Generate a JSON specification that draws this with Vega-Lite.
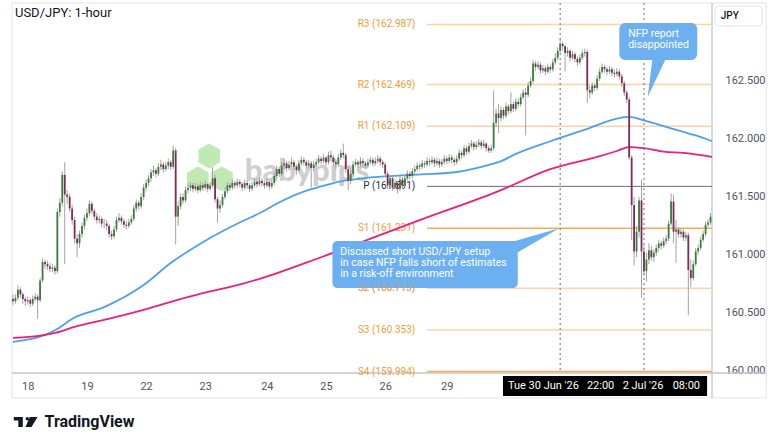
{
"$schema": "https://vega.github.io/schema/vega-lite/v6.json",
"width": 710, "height": 370,
"autosize": "none",
"padding": {"left": 7, "top": 3, "right": 63, "bottom": 73},
"background": "#ffffff",
"config": {"view": {"stroke": null}, "font": "Roboto", "axis": {"grid": false, "domain": false, "ticks": false, "labelColor": "#50535e", "labelFontSize": 11, "labelFont": "Roboto"}},
"datasets": {
"ohlc": [
{"t":0,"o":160.62,"h":160.66,"l":160.57,"c":160.60},{"t":1,"o":160.60,"h":160.66,"l":160.58,"c":160.63},{"t":2,"o":160.63,"h":160.74,"l":160.61,"c":160.70},{"t":3,"o":160.70,"h":160.72,"l":160.63,"c":160.66},{"t":4,"o":160.66,"h":160.68,"l":160.58,"c":160.62},{"t":5,"o":160.62,"h":160.64,"l":160.56,"c":160.60},{"t":6,"o":160.60,"h":160.64,"l":160.57,"c":160.61},{"t":7,"o":160.61,"h":160.63,"l":160.55,"c":160.58},{"t":8,"o":160.58,"h":160.65,"l":160.56,"c":160.62},{"t":9,"o":160.62,"h":160.67,"l":160.60,"c":160.64},
{"t":10,"o":160.64,"h":160.66,"l":160.45,"c":160.61},{"t":11,"o":160.61,"h":160.80,"l":160.59,"c":160.78},{"t":12,"o":160.78,"h":160.97,"l":160.76,"c":160.94},{"t":13,"o":160.94,"h":160.96,"l":160.88,"c":160.92},{"t":14,"o":160.92,"h":160.95,"l":160.87,"c":160.90},{"t":15,"o":160.90,"h":160.93,"l":160.85,"c":160.88},{"t":16,"o":160.88,"h":160.92,"l":160.85,"c":160.89},{"t":17,"o":160.89,"h":160.91,"l":160.83,"c":160.86},{"t":18,"o":160.86,"h":161.40,"l":160.84,"c":161.37},{"t":19,"o":161.37,"h":161.49,"l":161.33,"c":161.45},
{"t":20,"o":161.45,"h":161.72,"l":161.42,"c":161.69},{"t":21,"o":161.69,"h":161.80,"l":160.92,"c":161.52},{"t":22,"o":161.52,"h":161.56,"l":161.44,"c":161.50},{"t":23,"o":161.50,"h":161.53,"l":161.37,"c":161.40},{"t":24,"o":161.40,"h":161.43,"l":161.26,"c":161.30},{"t":25,"o":161.30,"h":161.33,"l":161.10,"c":161.14},{"t":26,"o":161.14,"h":161.18,"l":160.98,"c":161.10},{"t":27,"o":161.10,"h":161.21,"l":161.06,"c":161.18},{"t":28,"o":161.18,"h":161.28,"l":161.15,"c":161.25},{"t":29,"o":161.25,"h":161.35,"l":161.22,"c":161.32},
{"t":30,"o":161.32,"h":161.40,"l":161.29,"c":161.36},{"t":31,"o":161.36,"h":161.47,"l":161.33,"c":161.44},{"t":32,"o":161.44,"h":161.46,"l":161.35,"c":161.38},{"t":33,"o":161.38,"h":161.40,"l":161.30,"c":161.33},{"t":34,"o":161.33,"h":161.36,"l":161.27,"c":161.30},{"t":35,"o":161.30,"h":161.34,"l":161.27,"c":161.31},{"t":36,"o":161.31,"h":161.33,"l":161.24,"c":161.27},{"t":37,"o":161.27,"h":161.31,"l":161.23,"c":161.27},{"t":38,"o":161.27,"h":161.30,"l":161.21,"c":161.25},{"t":39,"o":161.25,"h":161.27,"l":161.15,"c":161.18},
{"t":40,"o":161.18,"h":161.21,"l":161.13,"c":161.16},{"t":41,"o":161.16,"h":161.25,"l":161.14,"c":161.22},{"t":42,"o":161.22,"h":161.33,"l":161.20,"c":161.30},{"t":43,"o":161.30,"h":161.36,"l":161.28,"c":161.32},{"t":44,"o":161.32,"h":161.34,"l":161.26,"c":161.29},{"t":45,"o":161.29,"h":161.31,"l":161.23,"c":161.26},{"t":46,"o":161.26,"h":161.29,"l":161.22,"c":161.25},{"t":47,"o":161.25,"h":161.31,"l":161.23,"c":161.28},{"t":48,"o":161.28,"h":161.34,"l":161.26,"c":161.31},{"t":49,"o":161.31,"h":161.43,"l":161.29,"c":161.40},
{"t":50,"o":161.40,"h":161.48,"l":161.37,"c":161.45},{"t":51,"o":161.45,"h":161.47,"l":161.39,"c":161.42},{"t":52,"o":161.42,"h":161.53,"l":161.40,"c":161.50},{"t":53,"o":161.50,"h":161.61,"l":161.47,"c":161.58},{"t":54,"o":161.58,"h":161.65,"l":161.55,"c":161.62},{"t":55,"o":161.62,"h":161.69,"l":161.59,"c":161.66},{"t":56,"o":161.66,"h":161.74,"l":161.63,"c":161.71},{"t":57,"o":161.71,"h":161.77,"l":161.68,"c":161.73},{"t":58,"o":161.73,"h":161.75,"l":161.67,"c":161.70},{"t":59,"o":161.70,"h":161.79,"l":161.68,"c":161.76},
{"t":60,"o":161.76,"h":161.82,"l":161.73,"c":161.78},{"t":61,"o":161.78,"h":161.80,"l":161.71,"c":161.74},{"t":62,"o":161.74,"h":161.80,"l":161.72,"c":161.77},{"t":63,"o":161.77,"h":161.83,"l":161.74,"c":161.80},{"t":64,"o":161.80,"h":161.82,"l":161.73,"c":161.76},{"t":65,"o":161.76,"h":161.94,"l":161.74,"c":161.90},{"t":66,"o":161.90,"h":161.92,"l":161.09,"c":161.33},{"t":67,"o":161.33,"h":161.46,"l":161.25,"c":161.42},{"t":68,"o":161.42,"h":161.53,"l":161.39,"c":161.50},{"t":69,"o":161.50,"h":161.53,"l":161.44,"c":161.47},
{"t":70,"o":161.47,"h":161.59,"l":161.45,"c":161.56},{"t":71,"o":161.56,"h":161.62,"l":161.53,"c":161.58},{"t":72,"o":161.58,"h":161.63,"l":161.55,"c":161.60},{"t":73,"o":161.60,"h":161.62,"l":161.54,"c":161.57},{"t":74,"o":161.57,"h":161.62,"l":161.55,"c":161.59},{"t":75,"o":161.59,"h":161.61,"l":161.53,"c":161.56},{"t":76,"o":161.56,"h":161.63,"l":161.54,"c":161.60},{"t":77,"o":161.60,"h":161.62,"l":161.55,"c":161.58},{"t":78,"o":161.58,"h":161.64,"l":161.56,"c":161.61},{"t":79,"o":161.61,"h":161.62,"l":161.54,"c":161.57},
{"t":80,"o":161.57,"h":161.63,"l":161.55,"c":161.60},{"t":81,"o":161.60,"h":161.76,"l":161.58,"c":161.66},{"t":82,"o":161.66,"h":161.69,"l":161.45,"c":161.48},{"t":83,"o":161.48,"h":161.50,"l":161.28,"c":161.40},{"t":84,"o":161.40,"h":161.47,"l":161.36,"c":161.43},{"t":85,"o":161.43,"h":161.53,"l":161.41,"c":161.50},{"t":86,"o":161.50,"h":161.58,"l":161.48,"c":161.55},{"t":87,"o":161.55,"h":161.63,"l":161.53,"c":161.60},{"t":88,"o":161.60,"h":161.62,"l":161.55,"c":161.58},{"t":89,"o":161.58,"h":161.65,"l":161.56,"c":161.62},
{"t":90,"o":161.62,"h":161.64,"l":161.57,"c":161.60},{"t":91,"o":161.60,"h":161.66,"l":161.58,"c":161.63},{"t":92,"o":161.63,"h":161.65,"l":161.58,"c":161.61},{"t":93,"o":161.61,"h":161.63,"l":161.55,"c":161.58},{"t":94,"o":161.58,"h":161.65,"l":161.56,"c":161.62},{"t":95,"o":161.62,"h":161.64,"l":161.57,"c":161.60},{"t":96,"o":161.60,"h":161.62,"l":161.54,"c":161.57},{"t":97,"o":161.57,"h":161.63,"l":161.55,"c":161.60},{"t":98,"o":161.60,"h":161.66,"l":161.58,"c":161.63},{"t":99,"o":161.63,"h":161.65,"l":161.58,"c":161.61},
{"t":100,"o":161.61,"h":161.67,"l":161.59,"c":161.64},{"t":101,"o":161.64,"h":161.66,"l":161.59,"c":161.62},{"t":102,"o":161.62,"h":161.64,"l":161.57,"c":161.60},{"t":103,"o":161.60,"h":161.66,"l":161.58,"c":161.63},{"t":104,"o":161.63,"h":161.64,"l":161.56,"c":161.59},{"t":105,"o":161.59,"h":161.65,"l":161.57,"c":161.62},{"t":106,"o":161.62,"h":161.71,"l":161.60,"c":161.68},{"t":107,"o":161.68,"h":161.77,"l":161.66,"c":161.74},{"t":108,"o":161.74,"h":161.76,"l":161.67,"c":161.70},{"t":109,"o":161.70,"h":161.80,"l":161.68,"c":161.77},
{"t":110,"o":161.77,"h":161.83,"l":161.74,"c":161.79},{"t":111,"o":161.79,"h":161.81,"l":161.72,"c":161.75},{"t":112,"o":161.75,"h":161.81,"l":161.73,"c":161.78},{"t":113,"o":161.78,"h":161.84,"l":161.76,"c":161.80},{"t":114,"o":161.80,"h":161.82,"l":161.73,"c":161.76},{"t":115,"o":161.76,"h":161.78,"l":161.69,"c":161.73},{"t":116,"o":161.73,"h":161.82,"l":161.71,"c":161.79},{"t":117,"o":161.79,"h":161.85,"l":161.77,"c":161.82},{"t":118,"o":161.82,"h":161.84,"l":161.77,"c":161.80},{"t":119,"o":161.80,"h":161.82,"l":161.74,"c":161.77},
{"t":120,"o":161.77,"h":161.82,"l":161.75,"c":161.79},{"t":121,"o":161.79,"h":161.81,"l":161.58,"c":161.75},{"t":122,"o":161.75,"h":161.81,"l":161.72,"c":161.78},{"t":123,"o":161.78,"h":161.83,"l":161.76,"c":161.80},{"t":124,"o":161.80,"h":161.86,"l":161.78,"c":161.83},{"t":125,"o":161.83,"h":161.85,"l":161.78,"c":161.81},{"t":126,"o":161.81,"h":161.87,"l":161.79,"c":161.84},{"t":127,"o":161.84,"h":161.85,"l":161.77,"c":161.80},{"t":128,"o":161.80,"h":161.89,"l":161.78,"c":161.86},{"t":129,"o":161.86,"h":161.90,"l":161.81,"c":161.84},
{"t":130,"o":161.84,"h":161.86,"l":161.77,"c":161.80},{"t":131,"o":161.80,"h":161.82,"l":161.74,"c":161.78},{"t":132,"o":161.78,"h":161.87,"l":161.76,"c":161.84},{"t":133,"o":161.84,"h":161.91,"l":161.82,"c":161.88},{"t":134,"o":161.88,"h":161.96,"l":161.83,"c":161.86},{"t":135,"o":161.86,"h":161.88,"l":161.71,"c":161.74},{"t":136,"o":161.74,"h":161.76,"l":161.56,"c":161.64},{"t":137,"o":161.64,"h":161.73,"l":161.61,"c":161.70},{"t":138,"o":161.70,"h":161.81,"l":161.68,"c":161.78},{"t":139,"o":161.78,"h":161.83,"l":161.76,"c":161.80},
{"t":140,"o":161.80,"h":161.82,"l":161.75,"c":161.78},{"t":141,"o":161.78,"h":161.84,"l":161.76,"c":161.81},{"t":142,"o":161.81,"h":161.83,"l":161.76,"c":161.79},{"t":143,"o":161.79,"h":161.81,"l":161.74,"c":161.77},{"t":144,"o":161.77,"h":161.83,"l":161.75,"c":161.80},{"t":145,"o":161.80,"h":161.85,"l":161.78,"c":161.82},{"t":146,"o":161.82,"h":161.84,"l":161.76,"c":161.79},{"t":147,"o":161.79,"h":161.84,"l":161.77,"c":161.81},{"t":148,"o":161.81,"h":161.86,"l":161.79,"c":161.83},{"t":149,"o":161.83,"h":161.85,"l":161.77,"c":161.80},
{"t":150,"o":161.80,"h":161.82,"l":161.75,"c":161.78},{"t":151,"o":161.78,"h":161.80,"l":161.67,"c":161.70},{"t":152,"o":161.70,"h":161.72,"l":161.57,"c":161.60},{"t":153,"o":161.60,"h":161.69,"l":161.58,"c":161.66},{"t":154,"o":161.66,"h":161.68,"l":161.55,"c":161.58},{"t":155,"o":161.58,"h":161.65,"l":161.56,"c":161.62},{"t":156,"o":161.62,"h":161.64,"l":161.53,"c":161.57},{"t":157,"o":161.57,"h":161.68,"l":161.55,"c":161.65},{"t":158,"o":161.65,"h":161.67,"l":161.57,"c":161.60},{"t":159,"o":161.60,"h":161.69,"l":161.58,"c":161.66},
{"t":160,"o":161.66,"h":161.73,"l":161.64,"c":161.70},{"t":161,"o":161.70,"h":161.72,"l":161.65,"c":161.68},{"t":162,"o":161.68,"h":161.75,"l":161.66,"c":161.72},{"t":163,"o":161.72,"h":161.77,"l":161.70,"c":161.74},{"t":164,"o":161.74,"h":161.80,"l":161.72,"c":161.77},{"t":165,"o":161.77,"h":161.79,"l":161.73,"c":161.76},{"t":166,"o":161.76,"h":161.82,"l":161.74,"c":161.79},{"t":167,"o":161.79,"h":161.81,"l":161.75,"c":161.78},{"t":168,"o":161.78,"h":161.84,"l":161.76,"c":161.81},{"t":169,"o":161.81,"h":161.83,"l":161.77,"c":161.80},
{"t":170,"o":161.80,"h":161.85,"l":161.78,"c":161.82},{"t":171,"o":161.82,"h":161.84,"l":161.76,"c":161.79},{"t":172,"o":161.79,"h":161.84,"l":161.77,"c":161.81},{"t":173,"o":161.81,"h":161.83,"l":161.75,"c":161.78},{"t":174,"o":161.78,"h":161.83,"l":161.76,"c":161.80},{"t":175,"o":161.80,"h":161.86,"l":161.78,"c":161.83},{"t":176,"o":161.83,"h":161.85,"l":161.78,"c":161.81},{"t":177,"o":161.81,"h":161.87,"l":161.79,"c":161.84},{"t":178,"o":161.84,"h":161.86,"l":161.79,"c":161.82},{"t":179,"o":161.82,"h":161.84,"l":161.77,"c":161.80},
{"t":180,"o":161.80,"h":161.86,"l":161.78,"c":161.83},{"t":181,"o":161.83,"h":161.91,"l":161.81,"c":161.88},{"t":182,"o":161.88,"h":161.90,"l":161.83,"c":161.86},{"t":183,"o":161.86,"h":161.95,"l":161.84,"c":161.92},{"t":184,"o":161.92,"h":161.94,"l":161.86,"c":161.89},{"t":185,"o":161.89,"h":161.97,"l":161.87,"c":161.94},{"t":186,"o":161.94,"h":161.99,"l":161.92,"c":161.96},{"t":187,"o":161.96,"h":161.98,"l":161.90,"c":161.93},{"t":188,"o":161.93,"h":161.98,"l":161.91,"c":161.95},{"t":189,"o":161.95,"h":162.00,"l":161.93,"c":161.97},
{"t":190,"o":161.97,"h":161.99,"l":161.91,"c":161.94},{"t":191,"o":161.94,"h":161.99,"l":161.92,"c":161.96},{"t":192,"o":161.96,"h":161.97,"l":161.89,"c":161.92},{"t":193,"o":161.92,"h":161.94,"l":161.88,"c":161.90},{"t":194,"o":161.90,"h":161.95,"l":161.88,"c":161.92},{"t":195,"o":161.92,"h":162.42,"l":161.90,"c":162.14},{"t":196,"o":162.14,"h":162.26,"l":162.10,"c":162.22},{"t":197,"o":162.22,"h":162.30,"l":162.05,"c":162.18},{"t":198,"o":162.18,"h":162.28,"l":162.15,"c":162.25},{"t":199,"o":162.25,"h":162.27,"l":162.17,"c":162.20},
{"t":200,"o":162.20,"h":162.31,"l":162.18,"c":162.28},{"t":201,"o":162.28,"h":162.30,"l":162.21,"c":162.24},{"t":202,"o":162.24,"h":162.40,"l":162.22,"c":162.30},{"t":203,"o":162.30,"h":162.32,"l":162.23,"c":162.26},{"t":204,"o":162.26,"h":162.35,"l":162.24,"c":162.32},{"t":205,"o":162.32,"h":162.35,"l":162.27,"c":162.30},{"t":206,"o":162.30,"h":162.39,"l":162.28,"c":162.36},{"t":207,"o":162.36,"h":162.43,"l":162.34,"c":162.40},{"t":208,"o":162.40,"h":162.44,"l":162.03,"c":162.38},{"t":209,"o":162.38,"h":162.49,"l":162.36,"c":162.46},
{"t":210,"o":162.46,"h":162.53,"l":162.44,"c":162.50},{"t":211,"o":162.50,"h":162.68,"l":162.48,"c":162.65},{"t":212,"o":162.65,"h":162.67,"l":162.59,"c":162.62},{"t":213,"o":162.62,"h":162.67,"l":162.60,"c":162.64},{"t":214,"o":162.64,"h":162.66,"l":162.56,"c":162.59},{"t":215,"o":162.59,"h":162.64,"l":162.57,"c":162.61},{"t":216,"o":162.61,"h":162.63,"l":162.55,"c":162.58},{"t":217,"o":162.58,"h":162.65,"l":162.56,"c":162.62},{"t":218,"o":162.62,"h":162.64,"l":162.57,"c":162.60},{"t":219,"o":162.60,"h":162.69,"l":162.58,"c":162.66},
{"t":220,"o":162.66,"h":162.74,"l":162.64,"c":162.70},{"t":221,"o":162.70,"h":162.79,"l":162.68,"c":162.76},{"t":222,"o":162.76,"h":162.86,"l":162.74,"c":162.82},{"t":223,"o":162.82,"h":162.84,"l":162.76,"c":162.80},{"t":224,"o":162.80,"h":162.81,"l":162.58,"c":162.74},{"t":225,"o":162.74,"h":162.79,"l":162.71,"c":162.76},{"t":226,"o":162.76,"h":162.77,"l":162.67,"c":162.70},{"t":227,"o":162.70,"h":162.76,"l":162.68,"c":162.73},{"t":228,"o":162.73,"h":162.75,"l":162.66,"c":162.69},{"t":229,"o":162.69,"h":162.71,"l":162.63,"c":162.66},
{"t":230,"o":162.66,"h":162.73,"l":162.64,"c":162.70},{"t":231,"o":162.70,"h":162.77,"l":162.68,"c":162.74},{"t":232,"o":162.74,"h":162.78,"l":162.71,"c":162.75},{"t":233,"o":162.75,"h":162.77,"l":162.31,"c":162.42},{"t":234,"o":162.42,"h":162.46,"l":162.35,"c":162.40},{"t":235,"o":162.40,"h":162.49,"l":162.38,"c":162.46},{"t":236,"o":162.46,"h":162.48,"l":162.41,"c":162.44},{"t":237,"o":162.44,"h":162.55,"l":162.42,"c":162.52},{"t":238,"o":162.52,"h":162.61,"l":162.50,"c":162.58},{"t":239,"o":162.58,"h":162.65,"l":162.56,"c":162.62},
{"t":240,"o":162.62,"h":162.64,"l":162.57,"c":162.60},{"t":241,"o":162.60,"h":162.62,"l":162.55,"c":162.58},{"t":242,"o":162.58,"h":162.63,"l":162.56,"c":162.60},{"t":243,"o":162.60,"h":162.62,"l":162.54,"c":162.57},{"t":244,"o":162.57,"h":162.60,"l":162.53,"c":162.56},{"t":245,"o":162.56,"h":162.61,"l":162.54,"c":162.58},{"t":246,"o":162.58,"h":162.60,"l":162.51,"c":162.54},{"t":247,"o":162.54,"h":162.56,"l":162.45,"c":162.48},{"t":248,"o":162.48,"h":162.50,"l":162.37,"c":162.40},{"t":249,"o":162.40,"h":162.42,"l":162.31,"c":162.34},
{"t":250,"o":162.34,"h":162.36,"l":161.82,"c":161.84},{"t":251,"o":161.84,"h":161.86,"l":161.13,"c":161.43},{"t":252,"o":161.43,"h":161.50,"l":160.91,"c":161.03},{"t":253,"o":161.03,"h":161.25,"l":160.98,"c":161.20},{"t":254,"o":161.20,"h":161.50,"l":161.15,"c":161.47},{"t":255,"o":161.47,"h":161.65,"l":160.63,"c":161.03},{"t":256,"o":161.03,"h":161.08,"l":160.82,"c":160.86},{"t":257,"o":160.86,"h":161.02,"l":160.77,"c":160.96},{"t":258,"o":160.96,"h":161.10,"l":160.92,"c":161.04},{"t":259,"o":161.04,"h":161.08,"l":160.95,"c":160.98},
{"t":260,"o":160.98,"h":161.05,"l":160.94,"c":161.02},{"t":261,"o":161.02,"h":161.09,"l":160.99,"c":161.06},{"t":262,"o":161.06,"h":161.13,"l":161.03,"c":161.10},{"t":263,"o":161.10,"h":161.12,"l":161.05,"c":161.08},{"t":264,"o":161.08,"h":161.15,"l":161.06,"c":161.12},{"t":265,"o":161.12,"h":161.17,"l":161.09,"c":161.14},{"t":266,"o":161.14,"h":161.30,"l":161.12,"c":161.27},{"t":267,"o":161.27,"h":161.53,"l":161.25,"c":161.46},{"t":268,"o":161.46,"h":161.52,"l":161.10,"c":161.20},{"t":269,"o":161.20,"h":161.30,"l":160.93,"c":161.22},
{"t":270,"o":161.22,"h":161.24,"l":161.15,"c":161.18},{"t":271,"o":161.18,"h":161.23,"l":161.15,"c":161.20},{"t":272,"o":161.20,"h":161.22,"l":161.12,"c":161.15},{"t":273,"o":161.15,"h":161.20,"l":161.12,"c":161.17},{"t":274,"o":161.17,"h":161.19,"l":160.48,"c":160.87},{"t":275,"o":160.87,"h":160.96,"l":160.72,"c":160.80},{"t":276,"o":160.80,"h":160.95,"l":160.78,"c":160.92},{"t":277,"o":160.92,"h":161.06,"l":160.90,"c":161.03},{"t":278,"o":161.03,"h":161.09,"l":161.00,"c":161.06},{"t":279,"o":161.06,"h":161.16,"l":161.04,"c":161.13},
{"t":280,"o":161.13,"h":161.21,"l":161.11,"c":161.18},{"t":281,"o":161.18,"h":161.29,"l":161.16,"c":161.26},{"t":282,"o":161.26,"h":161.31,"l":161.24,"c":161.28},{"t":283,"o":161.28,"h":161.36,"l":161.26,"c":161.33}
],
"ma": [
{"s":"b","t":0,"v":160.25},{"s":"b","t":13,"v":160.31},{"s":"b","t":17,"v":160.35},{"s":"b","t":25,"v":160.46},{"s":"b","t":37,"v":160.55},{"s":"b","t":53,"v":160.74},{"s":"b","t":64,"v":160.93},{"s":"b","t":77,"v":161.11},{"s":"b","t":93,"v":161.29},{"s":"b","t":101,"v":161.37},{"s":"b","t":106,"v":161.43},{"s":"b","t":120,"v":161.56},{"s":"b","t":125,"v":161.59},{"s":"b","t":133,"v":161.635},{"s":"b","t":138,"v":161.65},{"s":"b","t":146,"v":161.67},{"s":"b","t":153,"v":161.68},{"s":"b","t":166,"v":161.695},{"s":"b","t":180,"v":161.715},{"s":"b","t":192,"v":161.77},{"s":"b","t":197,"v":161.80},{"s":"b","t":205,"v":161.88},{"s":"b","t":218,"v":161.98},{"s":"b","t":232,"v":162.08},{"s":"b","t":245,"v":162.175},{"s":"b","t":250,"v":162.19},{"s":"b","t":256,"v":162.16},{"s":"b","t":264,"v":162.11},{"s":"b","t":272,"v":162.06},{"s":"b","t":277,"v":162.03},{"s":"b","t":283.6,"v":161.98},
{"s":"p","t":0,"v":160.284},{"s":"p","t":13,"v":160.31},{"s":"p","t":17,"v":160.327},{"s":"p","t":25,"v":160.38},{"s":"p","t":37,"v":160.44},{"s":"p","t":53,"v":160.526},{"s":"p","t":64,"v":160.595},{"s":"p","t":77,"v":160.67},{"s":"p","t":93,"v":160.75},{"s":"p","t":101,"v":160.80},{"s":"p","t":125,"v":160.98},{"s":"p","t":165,"v":161.30},{"s":"p","t":197,"v":161.55},{"s":"p","t":218,"v":161.74},{"s":"p","t":237,"v":161.845},{"s":"p","t":245,"v":161.896},{"s":"p","t":250,"v":161.93},{"s":"p","t":256,"v":161.92},{"s":"p","t":264,"v":161.89},{"s":"p","t":272,"v":161.88},{"s":"p","t":283.6,"v":161.845}
],
"piv": [
{"lvl":"R3","v":162.987,"label":"R3 (162.987)"},{"lvl":"R2","v":162.469,"label":"R2 (162.469)"},{"lvl":"R1","v":162.109,"label":"R1 (162.109)"},{"lvl":"P","v":161.591,"label":"P (161.591)"},{"lvl":"S1","v":161.231,"label":"S1 (161.231)"},{"lvl":"S2","v":160.713,"label":"S2 (160.713)"},{"lvl":"S3","v":160.353,"label":"S3 (160.353)"},{"lvl":"S4","v":159.994,"label":"S4 (159.994)"}
],
"events": [{"t":222},{"t":256}]
},
"layer": [
{"data": {"name": "ohlc"},
 "mark": {"type": "rule", "color": "#a3a3a3", "strokeWidth": 1, "opacity": 0},
 "encoding": {
  "x": {"field": "t", "type": "quantitative", "scale": {"domain": [-0.4, 283.6], "nice": false, "zero": false},
        "axis": {"orient": "bottom", "values": [6, 30, 54, 78, 103, 127, 151, 176], "labelExpr": "['18','19','22','23','24','25','26','29'][indexof([6,30,54,78,103,127,151,176], datum.value)]", "domain": false, "ticks": false, "grid": false, "labelPadding": 7, "labelFontSize": 11, "labelColor": "#50535e", "labelFont": "Roboto", "labelOverlap": false, "labelFlush": false, "title": null}},
  "y": {"field": "l", "type": "quantitative", "scale": {"domain": [159.982, 163.172], "nice": false, "zero": false},
        "axis": {"orient": "right", "values": [160, 160.5, 161, 161.5, 162, 162.5], "format": ".3f", "domain": false, "ticks": false, "tickSize": 0, "grid": false, "labelPadding": 8, "labelFontSize": 11, "labelColor": "#50535e", "labelFont": "Roboto", "labelOverlap": false, "labelFlush": false, "title": null}},
  "y2": {"field": "h"}
 }},
{"data": {"values": [{}]},
 "mark": {"type": "rect", "fillOpacity": 0, "stroke": "#e0e3eb", "strokeWidth": 1, "clip": false},
 "encoding": {"x": {"datum": -0.4, "type": "quantitative"}, "x2": {"datum": 305.6}, "y": {"datum": 163.172, "type": "quantitative"}, "y2": {"datum": 159.767}}},
{"data": {"values": [{}]},
 "mark": {"type": "rule", "color": "#b2b5be", "strokeWidth": 1, "clip": false},
 "encoding": {"x": {"datum": 283.6, "type": "quantitative"}, "y": {"datum": 163.172, "type": "quantitative"}, "y2": {"datum": 159.767}}},
{"data": {"values": [{}]},
 "mark": {"type": "rule", "color": "#c3c6ce", "strokeWidth": 1.5, "clip": false},
 "encoding": {"x": {"datum": -0.4, "type": "quantitative"}, "x2": {"datum": 305.6}, "y": {"datum": 159.982, "type": "quantitative"}}},
{"data": {"values": [{}]},
 "mark": {"type": "point", "shape": "M0,-1L0.866,-0.5L0.866,0.5L0,1L-0.866,0.5L-0.866,-0.5Z", "size": 680, "filled": true, "fill": "#b7e6a6", "stroke": "#ffffff", "strokeWidth": 1, "opacity": 0.85},
 "encoding": {"x": {"datum": 79.6, "type": "quantitative"}, "y": {"datum": 161.853, "type": "quantitative"}}},
{"data": {"values": [{}]},
 "mark": {"type": "point", "shape": "M0,-1L0.866,-0.5L0.866,0.5L0,1L-0.866,0.5L-0.866,-0.5Z", "size": 680, "filled": true, "fill": "#b7e6a6", "stroke": "#ffffff", "strokeWidth": 1, "opacity": 0.85},
 "encoding": {"x": {"datum": 75, "type": "quantitative"}, "y": {"datum": 161.655, "type": "quantitative"}}},
{"data": {"values": [{}]},
 "mark": {"type": "point", "shape": "M0,-1L0.866,-0.5L0.866,0.5L0,1L-0.866,0.5L-0.866,-0.5Z", "size": 680, "filled": true, "fill": "#b7e6a6", "stroke": "#ffffff", "strokeWidth": 1, "opacity": 0.85},
 "encoding": {"x": {"datum": 84.8, "type": "quantitative"}, "y": {"datum": 161.655, "type": "quantitative"}}},
{"data": {"values": [{}]},
 "mark": {"type": "text", "text": "babypips", "font": "Lato", "fontWeight": 900, "fontSize": 31, "color": "#c4c4c4", "opacity": 0.8, "align": "left", "baseline": "alphabetic"},
 "encoding": {"x": {"datum": 94, "type": "quantitative"}, "y": {"datum": 161.638, "type": "quantitative"}}},
{"data": {"name": "piv"},
 "mark": {"type": "rule"},
 "encoding": {
  "x": {"datum": 168, "type": "quantitative"}, "x2": {"datum": 283.6},
  "y": {"field": "v", "type": "quantitative", "title": null},
  "color": {"condition": [{"test": "datum.lvl === 'P'", "value": "#6a6d78"}, {"test": "datum.lvl === 'S1' || datum.lvl === 'S4'", "value": "#f8ab55"}], "value": "#fdd3a6"},
  "strokeWidth": {"condition": {"test": "datum.lvl === 'P'", "value": 1}, "value": 1.5}
 }},
{"data": {"name": "piv"},
 "mark": {"type": "text", "align": "right", "baseline": "middle", "fontSize": 10, "font": "Roboto"},
 "encoding": {
  "x": {"datum": 163.2, "type": "quantitative"},
  "y": {"field": "v", "type": "quantitative", "title": null},
  "text": {"field": "label"},
  "color": {"condition": {"test": "datum.lvl === 'P'", "value": "#2a2e39"}, "value": "#f39b38"}
 }},
{"data": {"name": "ma"},
 "mark": {"type": "line", "strokeWidth": 1.8, "interpolate": "monotone"},
 "encoding": {
  "x": {"field": "t", "type": "quantitative", "title": null},
  "y": {"field": "v", "type": "quantitative", "title": null},
  "color": {"field": "s", "type": "nominal", "scale": {"domain": ["b", "p"], "range": ["#4d9ff2", "#ec1f7a"]}, "legend": null}
 }},
{"data": {"name": "events"},
 "mark": {"type": "rule", "color": "#6a6d78", "strokeWidth": 1, "strokeDash": [2, 3]},
 "encoding": {"x": {"field": "t", "type": "quantitative", "title": null}, "y": {"datum": 163.172, "type": "quantitative"}, "y2": {"datum": 159.982}}},
{"data": {"name": "ohlc"},
 "mark": {"type": "rule", "color": "#a3a3a3", "strokeWidth": 1},
 "encoding": {"x": {"field": "t", "type": "quantitative", "title": null}, "y": {"field": "l", "type": "quantitative", "title": null}, "y2": {"field": "h"}}},
{"data": {"name": "ohlc"},
 "mark": {"type": "bar", "size": 1.8},
 "encoding": {
  "x": {"field": "t", "type": "quantitative", "title": null},
  "y": {"field": "o", "type": "quantitative", "title": null}, "y2": {"field": "c"},
  "color": {"condition": {"test": "datum.c >= datum.o", "value": "#3b7d3b"}, "value": "#7e2a5a"}
 }},
{"data": {"values": [{}]},
 "mark": {"type": "rect", "color": "#6cb0f2", "cornerRadius": 5},
 "encoding": {"x": {"datum": 129.6, "type": "quantitative"}, "x2": {"datum": 204.8}, "y": {"datum": 161.12, "type": "quantitative"}, "y2": {"datum": 160.715}}},
{"data": {"values": [{}]},
 "mark": {"type": "point", "shape": "M0,0L-1.04,0.3L-0.86,0.5Z", "size": 10000, "filled": true, "fill": "#6cb0f2", "strokeWidth": 0, "opacity": 1},
 "encoding": {"x": {"datum": 221.6, "type": "quantitative"}, "y": {"datum": 161.231, "type": "quantitative"}}},
{"data": {"values": [{}]},
 "mark": {"type": "text", "text": ["Discussed short USD/JPY setup", "in case NFP falls short of estimates", "in a risk-off environment"], "lineHeight": 11, "align": "left", "baseline": "top", "fontSize": 10.5, "font": "Roboto", "color": "#ffffff"},
 "encoding": {"x": {"datum": 132.8, "type": "quantitative"}, "y": {"datum": 161.069, "type": "quantitative"}}},
{"data": {"name": "piv"},
 "transform": [{"filter": "datum.lvl === 'S2'"}],
 "mark": {"type": "text", "align": "right", "baseline": "middle", "fontSize": 10, "font": "Roboto", "color": "#f39b38", "opacity": 0.55},
 "encoding": {"x": {"datum": 163.2, "type": "quantitative"}, "y": {"field": "v", "type": "quantitative", "title": null}, "text": {"field": "label"}}},
{"data": {"values": [{}]},
 "mark": {"type": "rect", "color": "#6cb0f2", "cornerRadius": 6},
 "encoding": {"x": {"datum": 246, "type": "quantitative"}, "x2": {"datum": 277.6}, "y": {"datum": 163.0, "type": "quantitative"}, "y2": {"datum": 162.681}}},
{"data": {"values": [{}]},
 "mark": {"type": "point", "shape": "M0,0L0.1,-0.8L0.38,-0.8Z", "size": 10000, "filled": true, "fill": "#6cb0f2", "strokeWidth": 0, "opacity": 1},
 "encoding": {"x": {"datum": 257.5, "type": "quantitative"}, "y": {"datum": 162.362, "type": "quantitative"}}},
{"data": {"values": [{}]},
 "mark": {"type": "text", "text": ["NFP report", "disappointed"], "lineHeight": 11, "align": "left", "baseline": "top", "fontSize": 10.5, "font": "Roboto", "color": "#ffffff"},
 "encoding": {"x": {"datum": 249.6, "type": "quantitative"}, "y": {"datum": 162.948, "type": "quantitative"}}},
{"data": {"values": [{}]},
 "mark": {"type": "rect", "color": "#000000", "clip": false},
 "encoding": {"x": {"datum": 198.8, "type": "quantitative"}, "x2": {"datum": 281.6}, "y": {"datum": 159.957, "type": "quantitative"}, "y2": {"datum": 159.784}}},
{"data": {"values": [{}]},
 "mark": {"type": "text", "text": "Tue 30 Jun '26", "align": "center", "baseline": "middle", "fontSize": 11, "font": "Roboto", "color": "#ffffff", "clip": false},
 "encoding": {"x": {"datum": 215.2, "type": "quantitative"}, "y": {"datum": 159.87, "type": "quantitative"}}},
{"data": {"values": [{}]},
 "mark": {"type": "text", "text": "22:00", "align": "center", "baseline": "middle", "fontSize": 11, "font": "Roboto", "color": "#ffffff", "clip": false},
 "encoding": {"x": {"datum": 238.4, "type": "quantitative"}, "y": {"datum": 159.87, "type": "quantitative"}}},
{"data": {"values": [{}]},
 "mark": {"type": "text", "text": "2 Jul '26", "align": "center", "baseline": "middle", "fontSize": 11, "font": "Roboto", "color": "#ffffff", "clip": false},
 "encoding": {"x": {"datum": 255.6, "type": "quantitative"}, "y": {"datum": 159.87, "type": "quantitative"}}},
{"data": {"values": [{}]},
 "mark": {"type": "text", "text": "08:00", "align": "center", "baseline": "middle", "fontSize": 11, "font": "Roboto", "color": "#ffffff", "clip": false},
 "encoding": {"x": {"datum": 273.2, "type": "quantitative"}, "y": {"datum": 159.87, "type": "quantitative"}}},
{"data": {"values": [{}]},
 "mark": {"type": "rect", "fill": "#ffffff", "stroke": "#e0e3eb", "strokeWidth": 1, "cornerRadius": 4, "clip": false},
 "encoding": {"x": {"datum": 284.8, "type": "quantitative"}, "x2": {"datum": 304}, "y": {"datum": 163.146, "type": "quantitative"}, "y2": {"datum": 162.974}}},
{"data": {"values": [{}]},
 "mark": {"type": "text", "text": "JPY", "align": "center", "baseline": "middle", "fontSize": 10, "fontWeight": 500, "font": "Roboto", "color": "#131722", "clip": false},
 "encoding": {"x": {"datum": 290.8, "type": "quantitative"}, "y": {"datum": 163.06, "type": "quantitative"}}},
{"data": {"values": [{}]},
 "mark": {"type": "text", "text": "USD/JPY: 1-hour", "align": "left", "baseline": "middle", "fontSize": 13, "font": "Roboto", "color": "#131722"},
 "encoding": {"x": {"datum": 0.8, "type": "quantitative"}, "y": {"datum": 163.086, "type": "quantitative"}}},
{"data": {"values": [{}]},
 "mark": {"type": "point", "shape": "M-1,-0.417H-0.25V0.417H-0.625V-0.125H-1Z M-0.015,-0.27a0.14,0.14 0 1,0 0.28,0a0.14,0.14 0 1,0 -0.28,0Z M0.333,-0.417L0.975,-0.417L0.475,0.417L-0.025,0.417Z", "size": 576, "filled": true, "fill": "#131722", "strokeWidth": 0, "opacity": 1, "clip": false},
 "encoding": {"x": {"datum": 5.2, "type": "quantitative"}, "y": {"datum": 159.56, "type": "quantitative"}}},
{"data": {"values": [{}]},
 "mark": {"type": "text", "text": "TradingView", "align": "left", "baseline": "alphabetic", "fontSize": 16, "fontWeight": "bold", "font": "Roboto", "color": "#131722", "clip": false},
 "encoding": {"x": {"datum": 12.8, "type": "quantitative"}, "y": {"datum": 159.517, "type": "quantitative"}}}
]
}
